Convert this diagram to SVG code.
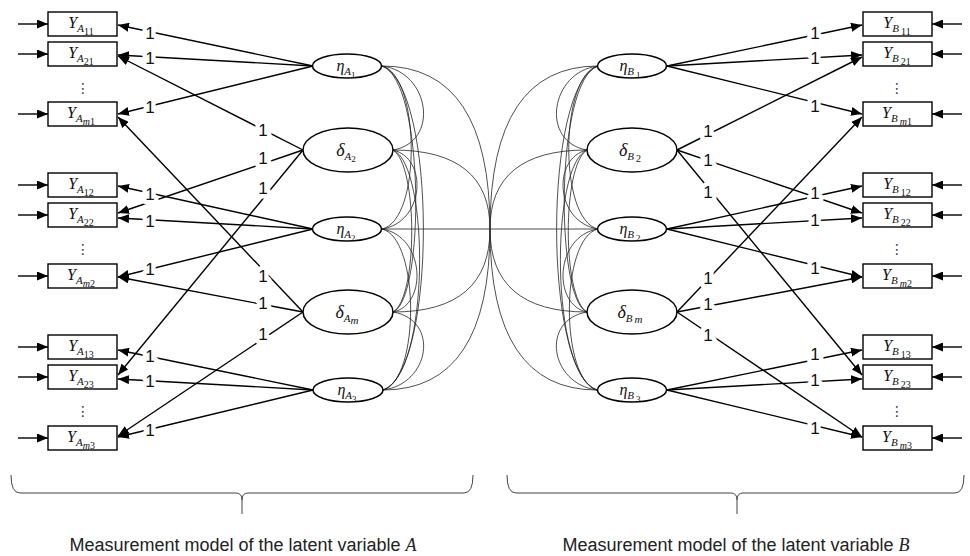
<svg xmlns="http://www.w3.org/2000/svg" width="970" height="556" viewBox="0 0 970 556">
<defs>
<marker id="ah" markerUnits="userSpaceOnUse" markerWidth="11" markerHeight="9" refX="11" refY="4.5" orient="auto">
<path d="M0,0 L11,4.5 L0,9 z" fill="#000"/>
</marker>
<style>
.box{fill:#fff;stroke:#000;stroke-width:1.4}
.ell{fill:#fff;stroke:#000;stroke-width:1.5}
.ld{stroke:#000;stroke-width:1.4;marker-end:url(#ah)}
.cv{fill:none;stroke:#222;stroke-width:0.8}
.one{font-family:"Liberation Sans",Arial,sans-serif;font-size:17px;text-anchor:middle;fill:#111;stroke:#fff;stroke-width:9px;paint-order:stroke;stroke-linejoin:round}
.var{font-family:"Liberation Serif","DejaVu Serif",serif;font-style:italic;text-anchor:middle;fill:#111}
.num{font-style:normal}
.dots{font-family:"DejaVu Sans",sans-serif;font-size:14px;text-anchor:middle;fill:#333}
.cap{font-family:"Liberation Sans",Arial,sans-serif;font-size:18px;text-anchor:middle;fill:#222}
.brace{fill:none;stroke:#444;stroke-width:1}
</style>
</defs>

<g id="connectors">
<path class="cv" d="M382,66 C430,72 440,142 393,150"/>
<path class="cv" d="M393,150 C428,158 425,222 382,229"/>
<path class="cv" d="M382,229 C425,236 428,305 393,312"/>
<path class="cv" d="M393,312 C440,320 430,384 383,390"/>
<path class="cv" d="M382,66 C420,75 422,220 382,229"/>
<path class="cv" d="M393,150 C418,165 418,298 393,312"/>
<path class="cv" d="M382,229 C420,238 420,380 383,390"/>
<path class="cv" d="M382,66 C425,80 425,300 393,312"/>
<path class="cv" d="M393,150 C430,165 430,375 383,390"/>
<path class="cv" d="M382,66 C437,85 437,372 383,390"/>
<path class="cv" d="M598,66 C550,72 540,142 587,150"/>
<path class="cv" d="M587,150 C552,158 555,222 598,229"/>
<path class="cv" d="M598,229 C555,236 552,305 587,312"/>
<path class="cv" d="M587,312 C540,320 550,384 597,390"/>
<path class="cv" d="M598,66 C560,75 558,220 598,229"/>
<path class="cv" d="M587,150 C562,165 562,298 587,312"/>
<path class="cv" d="M598,229 C560,238 560,380 597,390"/>
<path class="cv" d="M598,66 C555,80 555,300 587,312"/>
<path class="cv" d="M587,150 C550,165 550,375 597,390"/>
<path class="cv" d="M598,66 C543,85 543,372 597,390"/>
<path class="cv" d="M382,66 Q490,66 490,229"/>
<path class="cv" d="M393,150 Q490,150 490,229"/>
<path class="cv" d="M393,312 Q490,312 490,229"/>
<path class="cv" d="M383,390 Q490,390 490,229"/>
<path class="cv" d="M598,66 Q490,66 490,229"/>
<path class="cv" d="M587,150 Q490,150 490,229"/>
<path class="cv" d="M587,312 Q490,312 490,229"/>
<path class="cv" d="M597,390 Q490,390 490,229"/>
<path class="cv" d="M382,229 H598"/>

<line class="ld" x1="313" y1="66" x2="118" y2="25"/>
<line class="ld" x1="313" y1="66" x2="118" y2="55"/>
<line class="ld" x1="313" y1="66" x2="118" y2="114"/>
<line class="ld" x1="303" y1="150" x2="118" y2="56"/>
<line class="ld" x1="303" y1="150" x2="118" y2="213"/>
<line class="ld" x1="303" y1="150" x2="118" y2="375"/>
<line class="ld" x1="313" y1="229" x2="118" y2="186"/>
<line class="ld" x1="313" y1="229" x2="118" y2="218"/>
<line class="ld" x1="313" y1="229" x2="118" y2="277"/>
<line class="ld" x1="303" y1="312" x2="118" y2="117"/>
<line class="ld" x1="303" y1="312" x2="118" y2="277"/>
<line class="ld" x1="303" y1="312" x2="118" y2="436"/>
<line class="ld" x1="313" y1="390" x2="118" y2="350"/>
<line class="ld" x1="313" y1="390" x2="118" y2="379"/>
<line class="ld" x1="313" y1="390" x2="118" y2="437"/>
<line class="ld" x1="667" y1="66" x2="862" y2="25"/>
<line class="ld" x1="667" y1="66" x2="862" y2="55"/>
<line class="ld" x1="667" y1="66" x2="862" y2="114"/>
<line class="ld" x1="677" y1="150" x2="862" y2="57"/>
<line class="ld" x1="677" y1="150" x2="862" y2="213"/>
<line class="ld" x1="677" y1="150" x2="862" y2="375"/>
<line class="ld" x1="667" y1="229" x2="862" y2="186"/>
<line class="ld" x1="667" y1="229" x2="862" y2="218"/>
<line class="ld" x1="667" y1="229" x2="862" y2="277"/>
<line class="ld" x1="677" y1="312" x2="862" y2="117"/>
<line class="ld" x1="677" y1="312" x2="862" y2="277"/>
<line class="ld" x1="677" y1="312" x2="862" y2="437"/>
<line class="ld" x1="667" y1="390" x2="862" y2="350"/>
<line class="ld" x1="667" y1="390" x2="862" y2="379"/>
<line class="ld" x1="667" y1="390" x2="862" y2="437"/>

<line class="ld" x1="18" y1="24" x2="48" y2="24"/>
<line class="ld" x1="18" y1="54" x2="48" y2="54"/>
<line class="ld" x1="18" y1="114" x2="48" y2="114"/>
<line class="ld" x1="18" y1="185" x2="48" y2="185"/>
<line class="ld" x1="18" y1="215" x2="48" y2="215"/>
<line class="ld" x1="18" y1="276" x2="48" y2="276"/>
<line class="ld" x1="18" y1="347" x2="48" y2="347"/>
<line class="ld" x1="18" y1="377" x2="48" y2="377"/>
<line class="ld" x1="18" y1="438" x2="48" y2="438"/>
<line class="ld" x1="962" y1="24" x2="932" y2="24"/>
<line class="ld" x1="962" y1="54" x2="932" y2="54"/>
<line class="ld" x1="962" y1="114" x2="932" y2="114"/>
<line class="ld" x1="962" y1="185" x2="932" y2="185"/>
<line class="ld" x1="962" y1="215" x2="932" y2="215"/>
<line class="ld" x1="962" y1="276" x2="932" y2="276"/>
<line class="ld" x1="962" y1="347" x2="932" y2="347"/>
<line class="ld" x1="962" y1="377" x2="932" y2="377"/>
<line class="ld" x1="962" y1="438" x2="932" y2="438"/>

<text class="one" x="150" y="39">1</text>
<text class="one" x="150" y="64">1</text>
<text class="one" x="150" y="113">1</text>
<text class="one" x="263" y="136">1</text>
<text class="one" x="263" y="164">1</text>
<text class="one" x="263" y="194">1</text>
<text class="one" x="150" y="200">1</text>
<text class="one" x="150" y="227">1</text>
<text class="one" x="150" y="275">1</text>
<text class="one" x="263" y="282">1</text>
<text class="one" x="263" y="309">1</text>
<text class="one" x="263" y="340">1</text>
<text class="one" x="150" y="362">1</text>
<text class="one" x="150" y="387">1</text>
<text class="one" x="150" y="436">1</text>
<text class="one" x="815" y="39">1</text>
<text class="one" x="815" y="64">1</text>
<text class="one" x="815" y="112">1</text>
<text class="one" x="708" y="137">1</text>
<text class="one" x="708" y="166">1</text>
<text class="one" x="708" y="198">1</text>
<text class="one" x="815" y="199">1</text>
<text class="one" x="815" y="226">1</text>
<text class="one" x="815" y="274">1</text>
<text class="one" x="708" y="284">1</text>
<text class="one" x="708" y="310">1</text>
<text class="one" x="708" y="341">1</text>
<text class="one" x="815" y="360">1</text>
<text class="one" x="815" y="386">1</text>
<text class="one" x="815" y="434">1</text>
</g>

<g id="eta_A1"><ellipse class="ell" cx="347" cy="66" rx="34.5" ry="12"/>
<text class="var" x="346" y="71" font-size="16">η<tspan font-size="11" dy="4">A</tspan><tspan class="num" font-size="9" dy="3">1</tspan></text></g>
<g id="delta_A2"><ellipse class="ell" cx="348" cy="150" rx="45" ry="22"/>
<text class="var" x="346" y="156" font-size="18">δ<tspan font-size="11" dy="4">A</tspan><tspan class="num" font-size="9" dy="2">2</tspan></text></g>
<g id="eta_A2"><ellipse class="ell" cx="347" cy="229" rx="34.5" ry="12"/>
<text class="var" x="346" y="234" font-size="16">η<tspan font-size="11" dy="4">A</tspan><tspan class="num" font-size="9" dy="3">2</tspan></text></g>
<g id="delta_Am"><ellipse class="ell" cx="348" cy="312" rx="45" ry="22"/>
<text class="var" x="347" y="318" font-size="18">δ<tspan font-size="11" dy="4">A</tspan><tspan font-size="11" dy="2">m</tspan></text></g>
<g id="eta_A3"><ellipse class="ell" cx="348" cy="390" rx="35" ry="12"/>
<text class="var" x="347" y="395" font-size="16">η<tspan font-size="11" dy="4">A</tspan><tspan class="num" font-size="9" dy="3">3</tspan></text></g>

<g id="eta_B1"><ellipse class="ell" cx="632" cy="66" rx="34.5" ry="12"/>
<text class="var" x="630" y="71" font-size="16">η<tspan font-size="11" dy="4">B</tspan><tspan class="num" font-size="9" dy="3" dx="2">1</tspan></text></g>
<g id="delta_B2"><ellipse class="ell" cx="632" cy="150" rx="45" ry="22"/>
<text class="var" x="630" y="156" font-size="18">δ<tspan font-size="11" dy="4">B</tspan><tspan class="num" font-size="10" dy="2" dx="2">2</tspan></text></g>
<g id="eta_B2"><ellipse class="ell" cx="632" cy="229" rx="34.5" ry="12"/>
<text class="var" x="630" y="234" font-size="16">η<tspan font-size="11" dy="4">B</tspan><tspan class="num" font-size="9" dy="3" dx="2">2</tspan></text></g>
<g id="delta_Bm"><ellipse class="ell" cx="632" cy="312" rx="45" ry="22"/>
<text class="var" x="630" y="318" font-size="18">δ<tspan font-size="11" dy="4">B</tspan><tspan font-size="11" dy="1" dx="2">m</tspan></text></g>
<g id="eta_B3"><ellipse class="ell" cx="632" cy="390" rx="34.5" ry="12"/>
<text class="var" x="630" y="395" font-size="16">η<tspan font-size="11" dy="4">B</tspan><tspan class="num" font-size="9" dy="3" dx="2">3</tspan></text></g>

<g id="Y_A11"><rect class="box" x="48" y="12" width="69" height="24"/>
<text class="var" x="81" y="28" font-size="16">Y<tspan font-size="11" dy="4">A</tspan><tspan class="num" font-size="10" dy="3">11</tspan></text></g>
<g id="Y_A21"><rect class="box" x="48" y="42" width="69" height="24"/>
<text class="var" x="81" y="58" font-size="16">Y<tspan font-size="11" dy="4">A</tspan><tspan class="num" font-size="10" dy="3">21</tspan></text></g>
<g id="Y_Am1"><rect class="box" x="48" y="102" width="69" height="24"/>
<text class="var" x="81" y="118" font-size="16">Y<tspan font-size="11" dy="4">A</tspan><tspan font-size="10" dy="3">m</tspan><tspan class="num" font-size="10">1</tspan></text></g>
<g id="Y_A12"><rect class="box" x="48" y="173" width="69" height="24"/>
<text class="var" x="81" y="189" font-size="16">Y<tspan font-size="11" dy="4">A</tspan><tspan class="num" font-size="10" dy="3">12</tspan></text></g>
<g id="Y_A22"><rect class="box" x="48" y="203" width="69" height="24"/>
<text class="var" x="81" y="219" font-size="16">Y<tspan font-size="11" dy="4">A</tspan><tspan class="num" font-size="10" dy="3">22</tspan></text></g>
<g id="Y_Am2"><rect class="box" x="48" y="264" width="69" height="24"/>
<text class="var" x="81" y="280" font-size="16">Y<tspan font-size="11" dy="4">A</tspan><tspan font-size="10" dy="3">m</tspan><tspan class="num" font-size="10">2</tspan></text></g>
<g id="Y_A13"><rect class="box" x="48" y="335" width="69" height="24"/>
<text class="var" x="81" y="351" font-size="16">Y<tspan font-size="11" dy="4">A</tspan><tspan class="num" font-size="10" dy="3">13</tspan></text></g>
<g id="Y_A23"><rect class="box" x="48" y="365" width="69" height="24"/>
<text class="var" x="81" y="381" font-size="16">Y<tspan font-size="11" dy="4">A</tspan><tspan class="num" font-size="10" dy="3">23</tspan></text></g>
<g id="Y_Am3"><rect class="box" x="48" y="426" width="69" height="24"/>
<text class="var" x="81" y="442" font-size="16">Y<tspan font-size="11" dy="4">A</tspan><tspan font-size="10" dy="3">m</tspan><tspan class="num" font-size="10">3</tspan></text></g>

<g id="Y_B11"><rect class="box" x="863" y="12" width="69" height="24"/>
<text class="var" x="897" y="28" font-size="16">Y<tspan font-size="11" dy="4">B</tspan><tspan class="num" font-size="10" dy="3" dx="2">11</tspan></text></g>
<g id="Y_B21"><rect class="box" x="863" y="42" width="69" height="24"/>
<text class="var" x="897" y="58" font-size="16">Y<tspan font-size="11" dy="4">B</tspan><tspan class="num" font-size="10" dy="3" dx="2">21</tspan></text></g>
<g id="Y_Bm1"><rect class="box" x="863" y="102" width="69" height="24"/>
<text class="var" x="897" y="118" font-size="16">Y<tspan font-size="11" dy="4">B</tspan><tspan font-size="10" dy="3" dx="2">m</tspan><tspan class="num" font-size="10">1</tspan></text></g>
<g id="Y_B12"><rect class="box" x="863" y="173" width="69" height="24"/>
<text class="var" x="897" y="189" font-size="16">Y<tspan font-size="11" dy="4">B</tspan><tspan class="num" font-size="10" dy="3" dx="2">12</tspan></text></g>
<g id="Y_B22"><rect class="box" x="863" y="203" width="69" height="24"/>
<text class="var" x="897" y="219" font-size="16">Y<tspan font-size="11" dy="4">B</tspan><tspan class="num" font-size="10" dy="3" dx="2">22</tspan></text></g>
<g id="Y_Bm2"><rect class="box" x="863" y="264" width="69" height="24"/>
<text class="var" x="897" y="280" font-size="16">Y<tspan font-size="11" dy="4">B</tspan><tspan font-size="10" dy="3" dx="2">m</tspan><tspan class="num" font-size="10">2</tspan></text></g>
<g id="Y_B13"><rect class="box" x="863" y="335" width="69" height="24"/>
<text class="var" x="897" y="351" font-size="16">Y<tspan font-size="11" dy="4">B</tspan><tspan class="num" font-size="10" dy="3" dx="2">13</tspan></text></g>
<g id="Y_B23"><rect class="box" x="863" y="365" width="69" height="24"/>
<text class="var" x="897" y="381" font-size="16">Y<tspan font-size="11" dy="4">B</tspan><tspan class="num" font-size="10" dy="3" dx="2">23</tspan></text></g>
<g id="Y_Bm3"><rect class="box" x="863" y="426" width="69" height="24"/>
<text class="var" x="897" y="442" font-size="16">Y<tspan font-size="11" dy="4">B</tspan><tspan font-size="10" dy="3" dx="2">m</tspan><tspan class="num" font-size="10">3</tspan></text></g>

<text class="dots" x="83" y="93">⋮</text>
<text class="dots" x="83" y="254">⋮</text>
<text class="dots" x="83" y="416">⋮</text>
<text class="dots" x="897" y="93">⋮</text>
<text class="dots" x="897" y="254">⋮</text>
<text class="dots" x="897" y="416">⋮</text>

<g id="brace_A">
<path class="brace" d="M11,475 Q11,493 20,493 H236 Q242,493 242,500 Q242,493 248,493 H464 Q473,493 473,475 M242,500 V514"/>
<text class="cap" x="243" y="551">Measurement model of the latent variable <tspan font-family="Liberation Serif, serif" font-style="italic">A</tspan></text>
</g>
<g id="brace_B">
<path class="brace" d="M507,475 Q507,493 516,493 H731 Q737,493 737,500 Q737,493 743,493 H955 Q964,493 964,475 M737,500 V514"/>
<text class="cap" x="736" y="551">Measurement model of the latent variable <tspan font-family="Liberation Serif, serif" font-style="italic">B</tspan></text>
</g>
</svg>
